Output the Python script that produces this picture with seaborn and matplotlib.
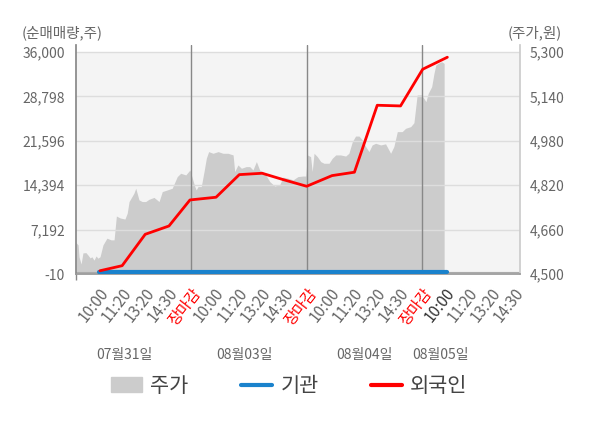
import matplotlib
matplotlib.use("Agg")
import matplotlib.pyplot as plt
import matplotlib.ticker as ticker
import numpy as np
import pandas as pd
import seaborn as sns

# x axis: one unit per time-slot label, day boundaries at 5, 10, 15
slot_labels = ["10:00", "11:20", "13:20", "14:30", "장마감"] * 3 + ["10:00", "11:20", "13:20", "14:30"]
day_labels = ["07월31일", "08월03일", "08월04일", "08월05일"]
day_label_x = [2.1, 7.3, 12.5, 15.8]
day_bounds = [5, 10, 15]

# 주가 (right axis)
price_x = [0.0, 0.09, 0.13, 0.22, 0.30, 0.43, 0.52, 0.61, 0.69, 0.78, 0.87, 0.95, 1.04,
           1.17, 1.34, 1.52, 1.65, 1.75, 1.91, 2.12, 2.22, 2.30, 2.51, 2.59, 2.73, 2.87,
           3.02, 3.16, 3.38, 3.60, 3.74, 3.96, 4.17, 4.39, 4.54, 4.76, 4.94, 5.04, 5.15,
           5.21, 5.29, 5.43, 5.55, 5.65, 5.75, 5.94, 6.16, 6.37, 6.59, 6.81, 6.88, 7.02,
           7.17, 7.38, 7.53, 7.67, 7.82, 7.96, 8.18, 8.40, 8.61, 8.83, 8.97, 9.19, 9.41,
           9.62, 9.84, 9.96, 10.03, 10.17, 10.24, 10.32, 10.46, 10.61, 10.75, 10.97, 11.11,
           11.26, 11.47, 11.69, 11.83, 11.98, 12.12, 12.27, 12.41, 12.56, 12.70, 12.84,
           12.99, 13.21, 13.42, 13.64, 13.78, 13.93, 14.14, 14.29, 14.51, 14.65, 14.79,
           14.98, 15.08, 15.17, 15.27, 15.42, 15.52, 15.60, 15.70, 15.85, 15.96]
price = [4613, 4605, 4562, 4536, 4576, 4577, 4568, 4558, 4562, 4550, 4565, 4557, 4562,
         4605, 4629, 4623, 4623, 4709, 4702, 4698, 4719, 4761, 4791, 4809, 4767, 4761,
         4761, 4769, 4776, 4761, 4797, 4803, 4809, 4851, 4863, 4857, 4875, 4846, 4815,
         4803, 4815, 4815, 4869, 4917, 4941, 4935, 4941, 4935, 4935, 4929, 4869, 4893,
         4881, 4887, 4887, 4875, 4905, 4875, 4863, 4833, 4817, 4821, 4849, 4845, 4839,
         4851, 4853, 4853, 4929, 4923, 4869, 4935, 4923, 4905, 4899, 4899, 4917,
         4929, 4929, 4925, 4935, 4977, 4997, 4997, 4983, 4959, 4941, 4965,
         4971, 4965, 4969, 4935, 4959, 5013, 5013, 5025, 5031, 5045, 5145,
         5145, 5133, 5121, 5151, 5175, 5223, 5253, 5259, 5265, 5259]

# 외국인 / 기관 cumulative net buy (left axis)
foreign_x = [1.04, 2.0, 3.0, 4.03, 4.94, 6.07, 7.08, 8.07, 9.0, 10.0, 11.1, 12.07, 13.06, 14.07, 15.03, 16.1]
foreign_net = [520, 1340, 6430, 7780, 12000, 12440, 16110, 16330, 15280, 14220, 15950, 16500,
               27360, 27250, 33200, 35150]
inst_x = [1.0, 16.1]
inst_net = [250, 250]

left_ticks = [-10, 7192, 14394, 21596, 28798, 36000]
right_ticks = [4500, 4660, 4820, 4980, 5140, 5300]

sns.set_theme(style="white")
plt.rcParams["font.family"] = ["Noto Sans CJK KR", "DejaVu Sans"]

fig = plt.figure(figsize=(6, 4.28), dpi=100)
ax2 = fig.add_axes([0.1267, 0.3598, 0.74, 0.5351])
ax = ax2.twinx()
ax.set_zorder(ax2.get_zorder() + 1)
ax.patch.set_visible(False)
ax.xaxis.set_visible(True)

xmax = 19.25
ax2.set_xlim(0, xmax)
ax2.set_ylim(4500, 5300 + 7 * 800 / 222)
ax.set_ylim(-10, 36000 + 7 * 36010 / 222)

# background band and price area
ax2.axhspan(4500, 5300, color="#f4f4f4", zorder=0, lw=0)
ax2.fill_between(price_x, price, 4500, color="#cccccc", lw=0, zorder=1)

# grid + separators on the top axes
for v in left_ticks[1:]:
    ax.axhline(v, color="#dddddd", lw=1, zorder=1)
ax.axhline(250, color="#aaaaaa", lw=0.8, zorder=1)
for b in day_bounds:
    ax.axvline(b, color="#888888", lw=1, zorder=1)

fdf = pd.DataFrame({"x": foreign_x, "y": foreign_net})
idf = pd.DataFrame({"x": inst_x, "y": inst_net})
sns.lineplot(data=idf, x="x", y="y", ax=ax, color="#1a82cc", lw=3, zorder=3)
sns.lineplot(data=fdf, x="x", y="y", ax=ax, color="#ff0000", lw=2, zorder=4)

# the twin puts its ticks right; move left-axis values to the left side
ax.yaxis.tick_left()
ax.yaxis.set_label_position("left")
ax2.yaxis.tick_right()
ax.set_yticks(left_ticks)
ax.set_yticklabels([f"{v:,}" for v in left_ticks])
ax2.set_yticks(right_ticks)
ax2.set_yticklabels([f"{v:,}" for v in right_ticks])
ax.set_ylabel("")
ax.set_xlabel("")
ax2.set_xlabel("")
for a in (ax, ax2):
    a.tick_params(axis="y", length=0, labelsize=10, labelcolor="#666666", pad=8)
ax2.tick_params(axis="y", pad=7)

ax.set_xlim(0, xmax)
ax.set_xticks(np.arange(1, len(slot_labels) + 1))
ax.set_xticklabels(slot_labels, rotation=52, ha="right", va="top", rotation_mode="anchor")
ax.xaxis.set_minor_locator(ticker.FixedLocator([0] + day_bounds))
ax.tick_params(axis="x", which="major", length=0, labelsize=11, labelcolor="#666666", pad=8)
ax.tick_params(axis="x", which="minor", length=4, color="#888888", width=1, bottom=True)
ax2.tick_params(axis="x", bottom=False, labelbottom=False)
for i, lbl in enumerate(ax.get_xticklabels()):
    if lbl.get_text() == "장마감":
        lbl.set_color("#ff0000")
    elif i == 15:
        lbl.set_color("#333333")

for a in (ax, ax2):
    for s in a.spines.values():
        s.set_visible(False)
ax.spines["left"].set_visible(True)
ax.spines["left"].set_color("#888888")
ax.spines["bottom"].set_visible(True)
ax.spines["bottom"].set_color("#999999")
ax.spines["right"].set_visible(True)
ax.spines["right"].set_color("#cccccc")

for x, t in zip(day_label_x, day_labels):
    ax.text(x, -0.355, t, transform=ax.get_xaxis_transform(), ha="center", va="center",
            fontsize=10, color="#666666")

fig.text(22 / 600, 1 - 33 / 428, "(순매매량,주)", ha="left", va="center", fontsize=10.5, color="#666666")
fig.text(562 / 600, 1 - 33 / 428, "(주가,원)", ha="right", va="center", fontsize=10.5, color="#666666")

handles = [plt.Rectangle((0, 0), 1, 1, color="#cccccc"),
           plt.Line2D([], [], color="#1a82cc", lw=3),
           plt.Line2D([], [], color="#ff0000", lw=3)]
fig.legend(handles, ["주가", "기관", "외국인"], loc="center", bbox_to_anchor=(0.482, 1 - 386 / 428),
           ncol=3, frameon=False, fontsize=15, handlelength=1.5, columnspacing=2.5,
           handletextpad=0.4, labelcolor="#444444")

fig.savefig("out.png", dpi=100)
